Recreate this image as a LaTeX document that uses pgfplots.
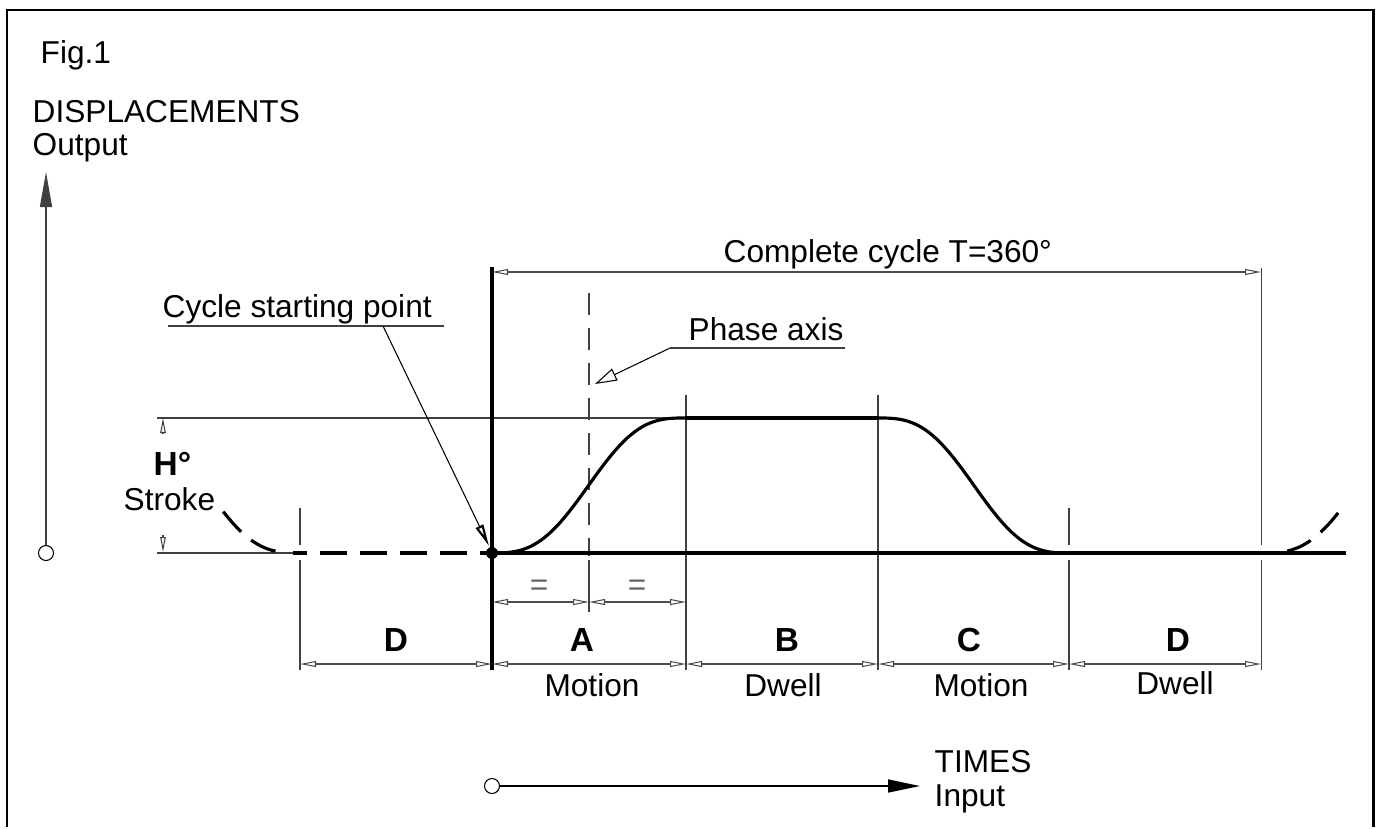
\documentclass[border=0pt]{standalone}
\usepackage{fontspec}
\setmainfont{Liberation Sans}
\usepackage{pgfplots}
\pgfplotsset{compat=1.18}
\usetikzlibrary{arrows.meta}

% one axis unit = one pixel of the reference, y counted downwards
\tikzset{
  thinln/.style={line width=0.3pt, black!75},
  thickln/.style={line width=0.9pt, black},
  dim/.style={line width=0.3pt, black!70,
    {Triangle[open,length=1.6mm,width=0.6mm]}-{Triangle[open,length=1.6mm,width=0.6mm]}},
  lbl/.style={font=\fontsize{9}{11}\selectfont, inner sep=0pt},
  blbl/.style={font=\fontsize{9.5}{11}\selectfont\bfseries, inner sep=0pt},
}

\begin{document}
\begin{tikzpicture}
\begin{axis}[
    width=137.8mm, height=82.7mm, scale only axis,
    xmin=0, xmax=1378, ymin=0, ymax=827,
    y dir=reverse,
    hide axis, clip=false,
  ]
  \path (axis cs:0,0) rectangle (axis cs:1378,827);

  % frame (open at the bottom)
  \draw[line width=0.85pt] (axis cs:7,827) -- (axis cs:7,10) -- (axis cs:1373,10) -- (axis cs:1373,827);

  % extension lines
  \draw[thinln] (axis cs:157,553) -- (axis cs:293,553);
  \draw[thinln] (axis cs:157,418) -- (axis cs:685,418);
  \draw[thinln] (axis cs:300,508) -- (axis cs:300,545);
  \draw[thinln] (axis cs:300,560) -- (axis cs:300,670);
  \draw[thinln] (axis cs:686,395) -- (axis cs:686,670);
  \draw[thinln] (axis cs:878,395) -- (axis cs:878,670);
  \draw[thinln] (axis cs:1069,508) -- (axis cs:1069,545);
  \draw[thinln] (axis cs:1069,560) -- (axis cs:1069,670);
  \draw[thinln] (axis cs:1261,268) -- (axis cs:1261,545);
  \draw[thinln] (axis cs:1261,560) -- (axis cs:1261,670);
  \draw[line width=0.9pt] (axis cs:492,267) -- (axis cs:492,670);

  % phase axis
  \draw[thinln, dash pattern=on 2.2mm off 1.3mm] (axis cs:589,293) -- (axis cs:589,556);
  \draw[thinln] (axis cs:589,560) -- (axis cs:589,612);

  % baseline and motion law
  \addplot[thickln, no markers] coordinates {(492,553) (1346,553)};
  \addplot[thickln, no markers, dash pattern=on 2.7mm off 1.3mm, dash phase=1.3mm]
    coordinates {(293,553) (490,553)};
  \addplot[thickln, no markers, smooth] coordinates {
    (492,553) (501.65,552.9) (511.3,552.1) (520.95,550.1) (530.6,546.4)
    (540.25,540.7) (549.9,532.9) (559.55,523.1) (569.2,511.6) (578.85,498.9)
    (588.5,485.5) (598.15,472.1) (607.8,459.4) (617.45,447.9) (627.1,438.1)
    (636.75,430.3) (646.4,424.6) (656.05,420.9) (665.7,418.9) (675.35,418.1)
    (685,418)};
  \addplot[thickln, no markers] coordinates {(685,418) (878,418)};
  \addplot[thickln, no markers, smooth] coordinates {
    (878,418) (887.6,418.1) (897.2,418.9) (906.8,420.9) (916.4,424.6)
    (926,430.3) (935.6,438.1) (945.2,447.9) (954.8,459.4) (964.4,472.1)
    (974,485.5) (983.6,498.9) (993.2,511.6) (1002.8,523.1) (1012.4,532.9)
    (1022,540.7) (1031.6,546.4) (1041.2,550.1) (1050.8,552.1) (1060.4,552.9)
    (1070,553)};
  % previous and next cycle
  \addplot[thickln, no markers, smooth, dash pattern=on 2.7mm off 1.3mm] coordinates {
    (223.2,511.6) (232.8,523.1) (242.4,532.9) (252,540.7) (261.6,546.4)
    (271.2,550.1) (280.8,552.1)};
  \addplot[thickln, no markers, smooth, dash pattern=on 2.6mm off 1.3mm] coordinates {
    (1287.1,551.1) (1290.95,550.1) (1300.6,546.4) (1310.25,540.7)
    (1319.9,532.9) (1329.55,523.1) (1339.2,511.6)};

  % cycle starting point
  \fill (axis cs:492,553) circle[radius=0.6mm];

  % stroke arrows
  \draw[line width=0.3pt, black!75, -{Triangle[open,length=1.5mm,width=0.55mm]}] (axis cs:163,434) -- (axis cs:163,418);
  \draw[line width=0.3pt, black!75, -{Triangle[open,length=1.5mm,width=0.55mm]}] (axis cs:163,535) -- (axis cs:163,552);
  \node[blbl, anchor=base west] at (axis cs:153,475) {H°};
  \node[lbl, anchor=base west] at (axis cs:123,510) {Stroke};

  % dimensions
  \draw[dim] (axis cs:492,272) -- (axis cs:1261,272);
  \node[lbl, anchor=base west] at (axis cs:723,262) {Complete cycle T=360°};
  \draw[dim] (axis cs:492,602) -- (axis cs:589,602);
  \draw[dim] (axis cs:589,602) -- (axis cs:686,602);
  \node[lbl, anchor=base, text=black!60] at (axis cs:539,595) {=};
  \node[lbl, anchor=base, text=black!60] at (axis cs:637,595) {=};
  \draw[dim] (axis cs:300,664) -- (axis cs:492,664);
  \draw[dim] (axis cs:492,664) -- (axis cs:686,664);
  \draw[dim] (axis cs:686,664) -- (axis cs:878,664);
  \draw[dim] (axis cs:878,664) -- (axis cs:1069,664);
  \draw[dim] (axis cs:1069,664) -- (axis cs:1261,664);

  \node[blbl, anchor=base] at (axis cs:396,651) {D};
  \node[blbl, anchor=base] at (axis cs:582,651) {A};
  \node[blbl, anchor=base] at (axis cs:787,651) {B};
  \node[blbl, anchor=base] at (axis cs:969,651) {C};
  \node[blbl, anchor=base] at (axis cs:1178,651) {D};
  \node[lbl, anchor=base] at (axis cs:592,696) {Motion};
  \node[lbl, anchor=base] at (axis cs:783,696) {Dwell};
  \node[lbl, anchor=base] at (axis cs:981,696) {Motion};
  \node[lbl, anchor=base] at (axis cs:1175,694) {Dwell};

  % leaders
  \node[lbl, anchor=base west] at (axis cs:162,317) {Cycle starting point};
  \draw[thinln] (axis cs:168,326) -- (axis cs:444,326);
  \draw[line width=0.3pt, black, -{Triangle[open,length=2.2mm,width=0.8mm,line width=0.6pt]}]
    (axis cs:383,326) -- (axis cs:489,546);
  \node[lbl, anchor=base west] at (axis cs:688,340) {Phase axis};
  \draw[thinln] (axis cs:845,348) -- (axis cs:670,348);
  \draw[line width=0.3pt, black, -{Triangle[open,length=2.2mm,width=1.3mm]}]
    (axis cs:670,348) -- (axis cs:595,384);

  % displacement axis
  \draw[line width=0.3pt, black] (axis cs:46,553) circle[radius=0.75mm];
  \draw[line width=0.4pt, black!75, -{Triangle[length=3.5mm,width=1.2mm]}] (axis cs:46,545) -- (axis cs:46,172);
  \node[lbl, anchor=base west] at (axis cs:40,64) {Fig.1};
  \node[lbl, anchor=base west] at (axis cs:32,122) {DISPLACEMENTS};
  \node[lbl, anchor=base west] at (axis cs:32,155) {Output};

  % time axis
  \draw[line width=0.3pt, black] (axis cs:492,786) circle[radius=0.75mm];
  \draw[line width=0.4pt, black, -{Triangle[length=3.2mm,width=1.3mm]}] (axis cs:499.5,786) -- (axis cs:920,786);
  \node[lbl, anchor=base west] at (axis cs:934,772) {TIMES};
  \node[lbl, anchor=base west] at (axis cs:934,806) {Input};
\end{axis}
\end{tikzpicture}
\end{document}
